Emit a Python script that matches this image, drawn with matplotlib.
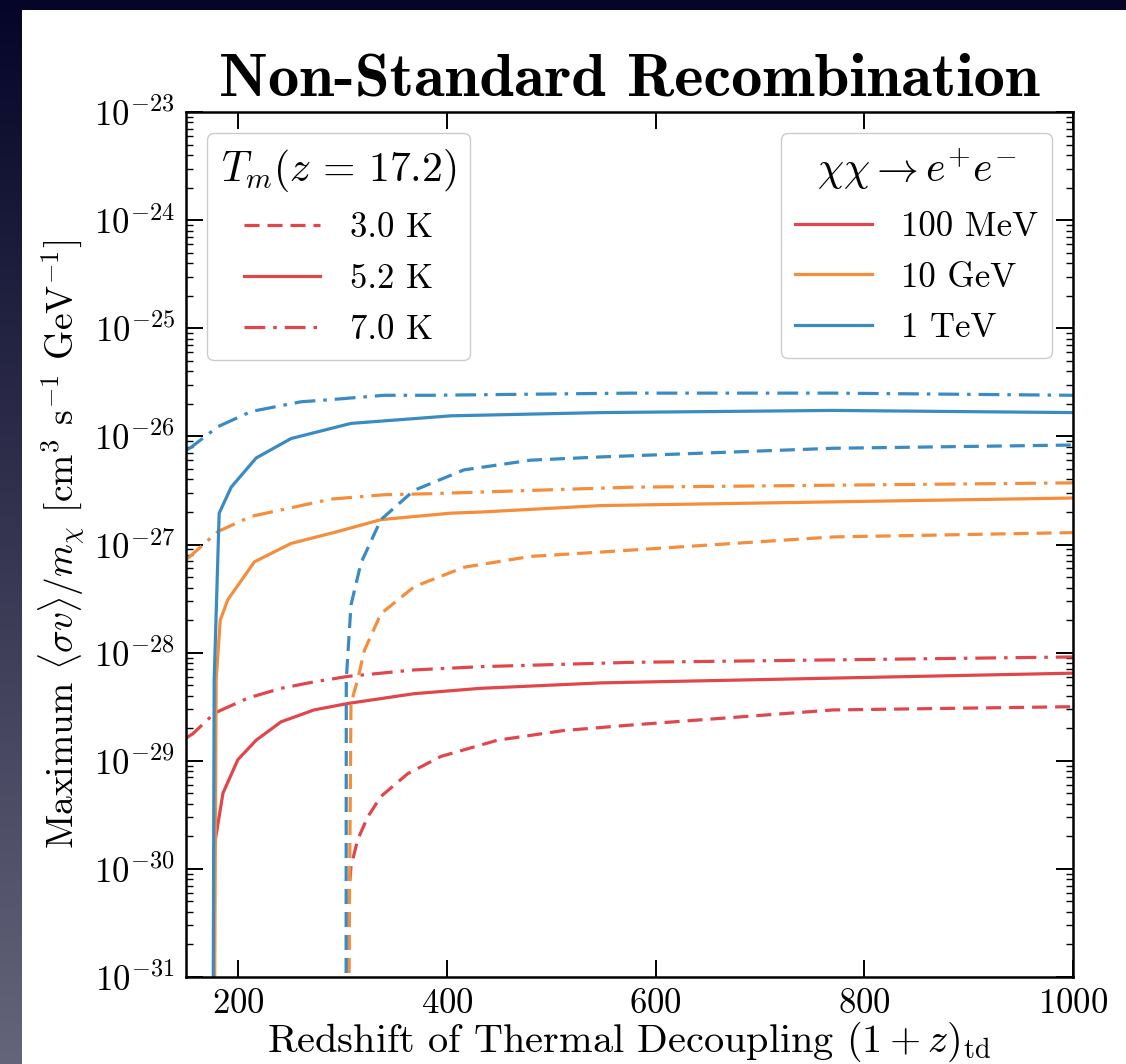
import numpy as np
import matplotlib
matplotlib.use("Agg")
import matplotlib.pyplot as plt
from matplotlib.lines import Line2D

plt.rcParams['font.family'] = ['cmr10', 'DejaVu Serif']
plt.rcParams['mathtext.fontset'] = 'cm'
plt.rcParams['axes.formatter.use_mathtext'] = True
plt.rcParams['axes.unicode_minus'] = False

# data (x = (1+z)_td, y = log10 of <sigma v>/m_chi)
x_solid_100mev = [176.0, 177.0, 185.4, 199.7, 217.2, 241.1, 272.7, 305.3, 368.4, 432.5, 547.4, 1000]
y_solid_100mev = [-33.0, -29.80, -29.30, -28.99, -28.81, -28.64, -28.53, -28.47, -28.38, -28.33, -28.28, -28.19]

x_solid_10gev = [176.5, 178.9, 182.8, 190.1, 215.6, 250.7, 295.4, 336.8, 403.8, 432.5, 547.4, 1000]
y_solid_10gev = [-33.0, -28.25, -27.70, -27.51, -27.16, -26.99, -26.88, -26.77, -26.71, -26.70, -26.64, -26.57]

x_solid_1tev = [175.5, 177.0, 181.8, 193.3, 217.2, 250.7, 308.1, 403.8, 547.4, 770.0, 1000]
y_solid_1tev = [-33.0, -28.25, -26.71, -26.47, -26.20, -26.02, -25.88, -25.81, -25.78, -25.76, -25.78]

x_dash_100mev = [304.3, 306.5, 308.1, 314.5, 324.1, 336.8, 362.4, 394.3, 448.5, 512.3, 576.0, 770.3, 1000]
y_dash_100mev = [-33.0, -30.17, -29.98, -29.73, -29.52, -29.33, -29.12, -28.96, -28.81, -28.72, -28.67, -28.53, -28.50]

x_dash_10gev = [304.5, 308.1, 314.5, 320.9, 336.8, 368.7, 416.6, 480.4, 547.4, 770.3, 1000]
y_dash_10gev = [-33.0, -28.47, -28.25, -27.98, -27.64, -27.39, -27.21, -27.11, -27.07, -26.93, -26.89]

x_dash_1tev = [303.3, 303.6, 308.1, 317.7, 336.8, 368.4, 416.3, 480.4, 547.4, 770.3, 1000]
y_dash_1tev = [-33.0, -28.25, -27.56, -27.17, -26.77, -26.50, -26.31, -26.22, -26.19, -26.11, -26.08]

x_dd_100mev = [150, 156.6, 177.3, 209.3, 241.1, 273.0, 305.0, 368.7, 432.5, 576.0, 1000]
y_dd_100mev = [-28.79, -28.75, -28.56, -28.42, -28.33, -28.27, -28.22, -28.16, -28.13, -28.09, -28.04]

x_dd_10gev = [150, 155.0, 180.6, 212.4, 260.3, 289.0, 339.7, 384.7, 576.0, 1000]
y_dd_10gev = [-27.14, -27.10, -26.88, -26.74, -26.64, -26.58, -26.54, -26.53, -26.47, -26.43]

x_dd_1tev = [150, 155.0, 180.6, 212.4, 260.3, 289.0, 339.7, 384.7, 576.1, 770.3, 1000]
y_dd_1tev = [-26.13, -26.10, -25.91, -25.77, -25.68, -25.66, -25.62, -25.62, -25.60, -25.60, -25.62]

temps = ['3.0 K', '5.2 K', '7.0 K']
masses = ['100 MeV', '10 GeV', '1 TeV']

red = '#e0474c'
orange = '#f58e3c'
blue = '#3a8bc2'
dashed = (4.7, 2.5)
dashdot = (6.5, 2.5, 1.1, 2.5)

W, H = 1126, 1064
fig = plt.figure(figsize=(W / 100, H / 100), dpi=100)

# dark slide background with the white panel cut into it
t = np.linspace(0, 1, H)[:, None, None]
top = np.array([5, 5, 40]) / 255
bot = np.array([100, 100, 122]) / 255
bgimg = np.repeat(top * (1 - t) + bot * t, W, axis=1)
bgimg[10:, 22:, :] = 1.0
fig.figimage(bgimg, xo=0, yo=0, origin='upper', zorder=-5)

ax = fig.add_axes([186 / W, 1 - 977 / H, (1073 - 186) / W, (977 - 112) / H])

lw = 2.3
curves = [
    (x_dash_100mev, y_dash_100mev, red, dashed),
    (x_solid_100mev, y_solid_100mev, red, None),
    (x_dd_100mev, y_dd_100mev, red, dashdot),
    (x_dash_10gev, y_dash_10gev, orange, dashed),
    (x_solid_10gev, y_solid_10gev, orange, None),
    (x_dd_10gev, y_dd_10gev, orange, dashdot),
    (x_dash_1tev, y_dash_1tev, blue, dashed),
    (x_solid_1tev, y_solid_1tev, blue, None),
    (x_dd_1tev, y_dd_1tev, blue, dashdot),
]
for xs, ys, c, d in curves:
    line, = ax.plot(xs, 10.0 ** np.array(ys), color=c, lw=lw)
    if d is not None:
        line.set_dashes(d)

ax.set_yscale('log')
ax.set_xlim(150, 1000)
ax.set_ylim(1e-31, 1e-23)
ax.set_xticks([200, 400, 600, 800, 1000])
ax.tick_params(which='both', direction='in', top=True, right=True, labelsize=25)
ax.tick_params(which='major', length=12, width=1.4, pad=8)
ax.tick_params(which='minor', length=5, width=1.0)
ax.tick_params(axis='x', which='minor', bottom=False, top=False)
for s in ax.spines.values():
    s.set_linewidth(1.8)

ax.set_xlabel(r'Redshift of Thermal Decoupling $(1+z)_{\mathrm{td}}$', fontsize=29, labelpad=0)
ax.set_ylabel(r'Maximum $\langle \sigma v \rangle / m_\chi$ [cm$^3$ s$^{-1}$ GeV$^{-1}$]', fontsize=27)
ax.yaxis.set_label_coords(-0.112, 0.5)
ax.set_title('Non-Standard Recombination', fontsize=45, family='cmb10', pad=12)

h1 = [Line2D([], [], color=red, lw=lw, dashes=dashed),
      Line2D([], [], color=red, lw=lw),
      Line2D([], [], color=red, lw=lw, dashes=dashdot)]
leg1 = ax.legend(h1, temps, loc='upper left', title=r'$T_m(z\,=\,17.2)$', fontsize=25,
                 title_fontsize=30, handlelength=2.2, handletextpad=0.85, borderaxespad=0.6,
                 edgecolor='#cccccc', framealpha=1, labelspacing=0.55)
ax.add_artist(leg1)

h2 = [Line2D([], [], color=red, lw=lw),
      Line2D([], [], color=orange, lw=lw),
      Line2D([], [], color=blue, lw=lw)]
ax.legend(h2, masses, loc='upper right', title=r'$\chi\chi \to e^{+}e^{-}$', fontsize=25,
          title_fontsize=30, handlelength=2.2, handletextpad=0.85, borderaxespad=0.6,
          edgecolor='#cccccc', framealpha=1, labelspacing=0.55)

fig.savefig('out.png', dpi=100)
